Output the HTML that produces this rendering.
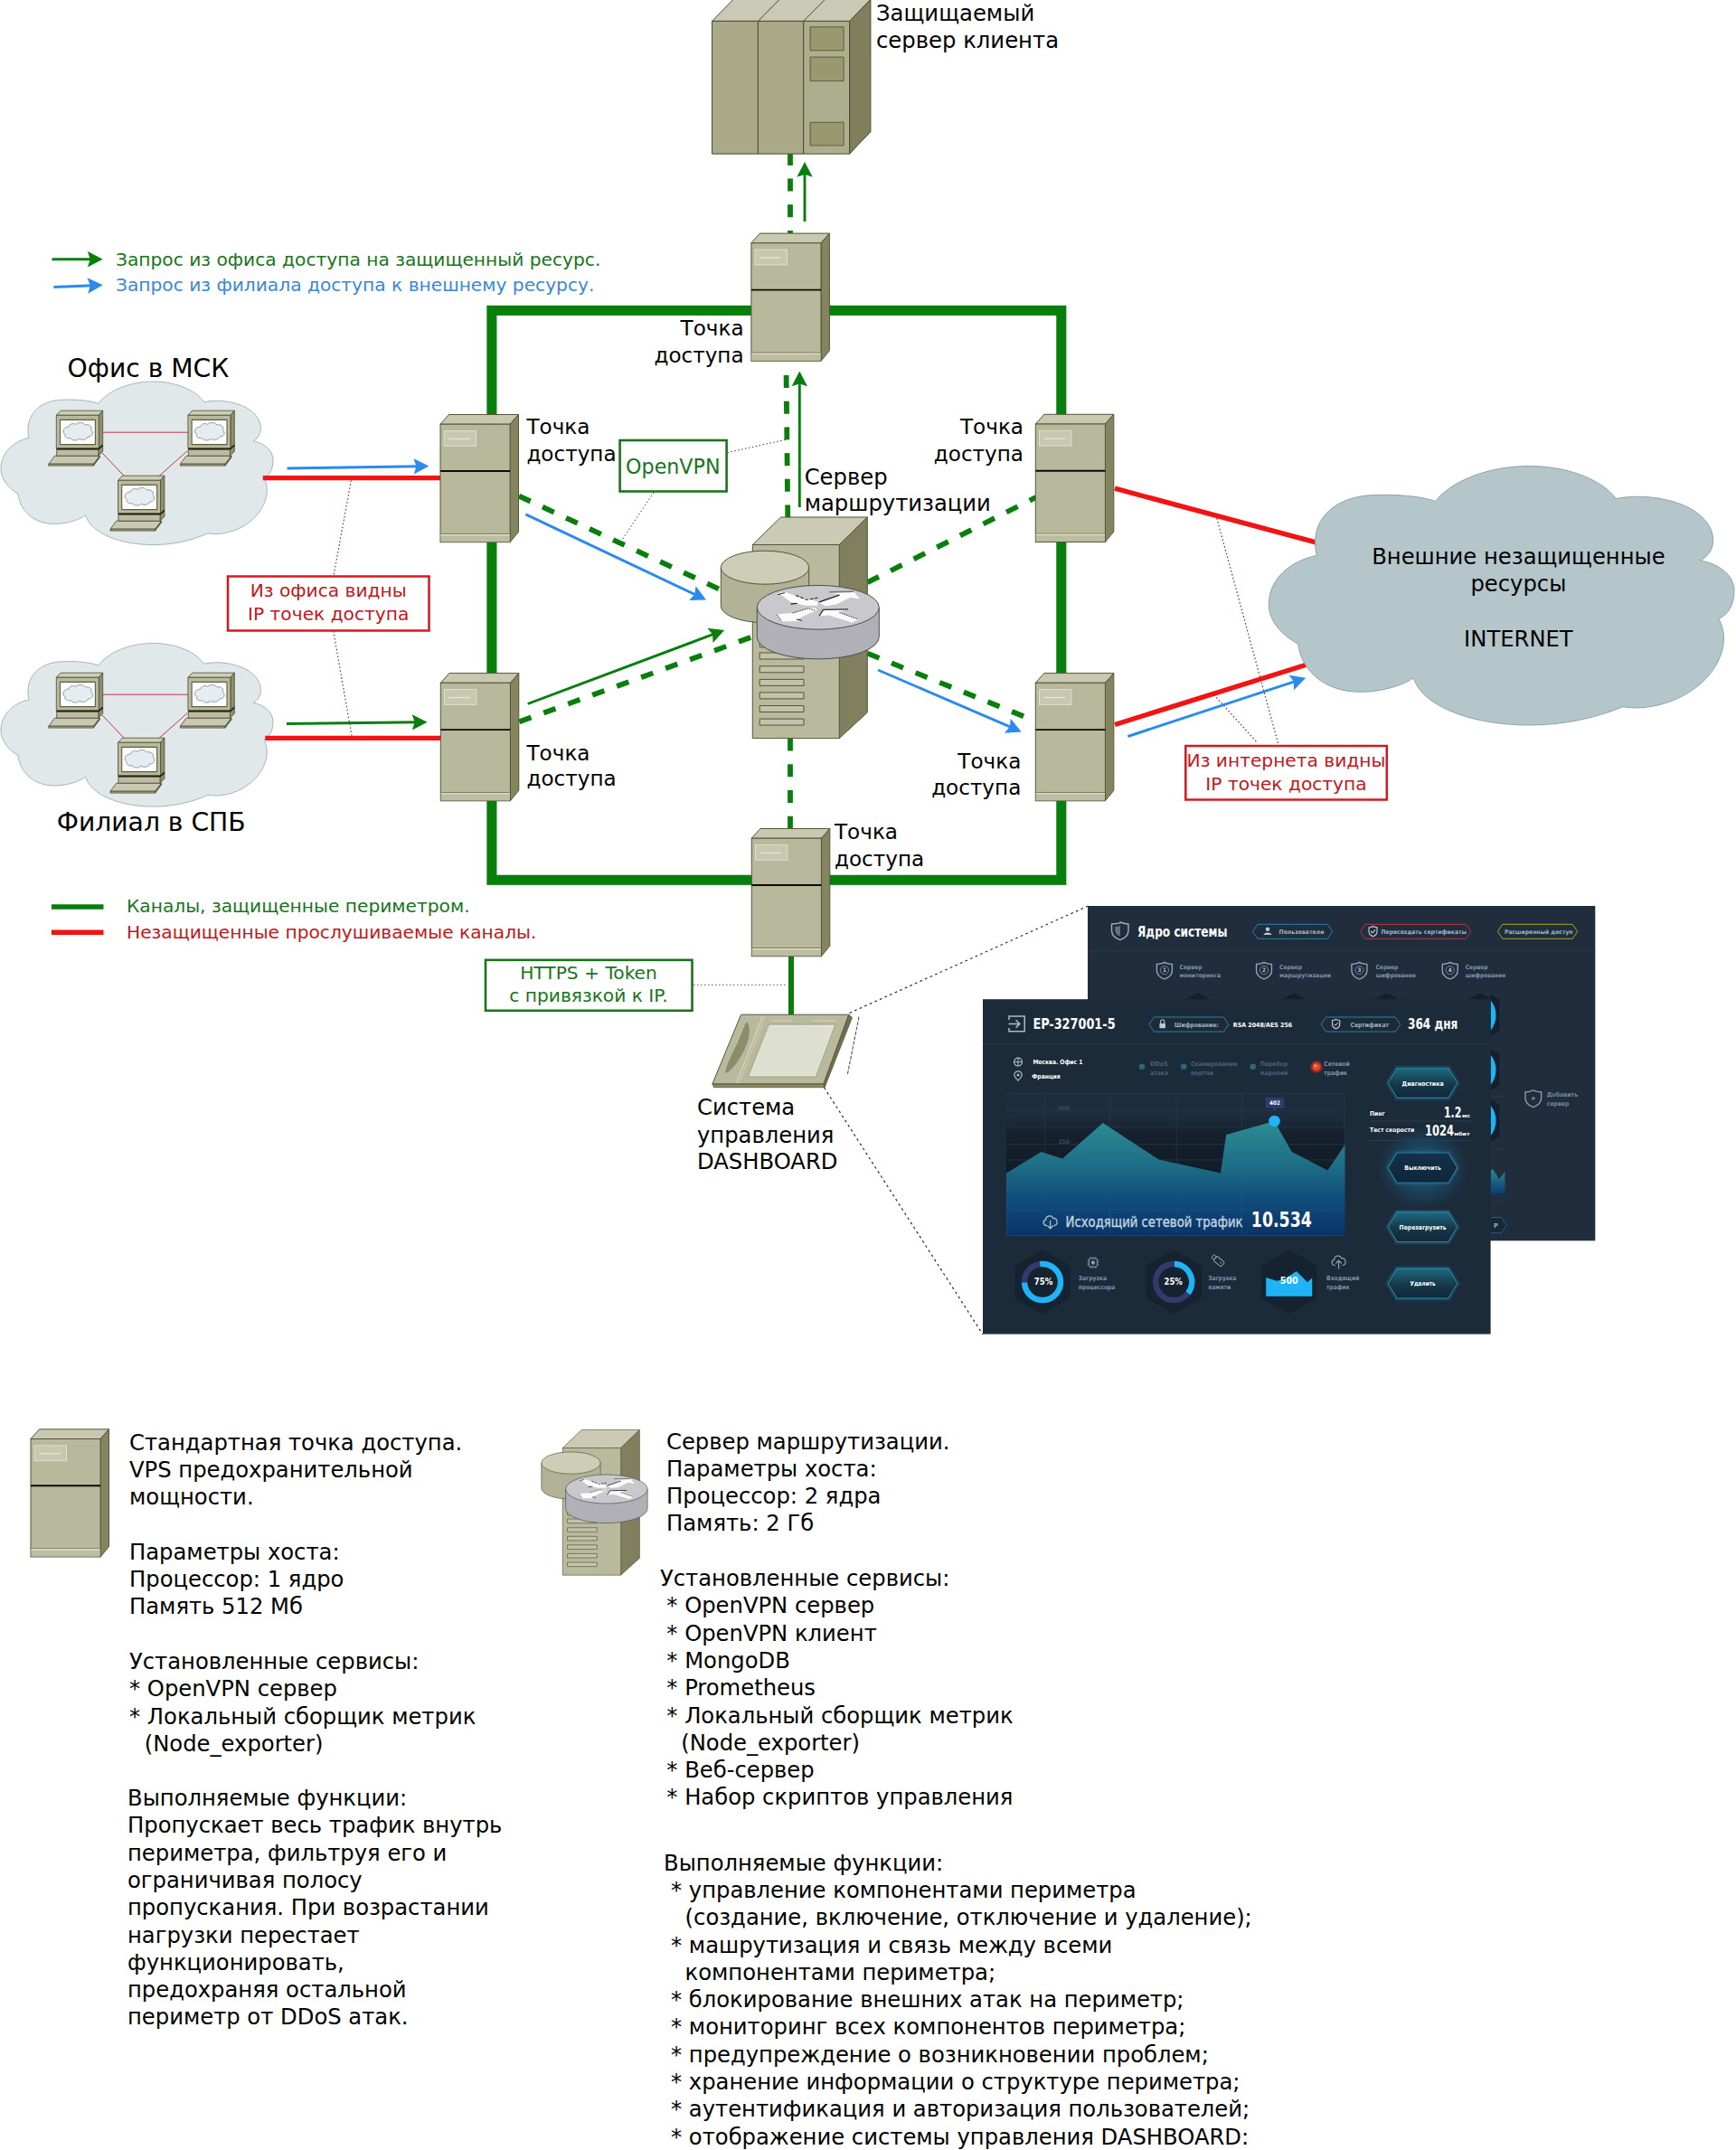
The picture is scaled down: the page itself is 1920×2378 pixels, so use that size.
<!DOCTYPE html>
<html lang="ru"><head><meta charset="utf-8"><title>Схема защищенного периметра</title>
<style>
html,body{margin:0;padding:0;background:#fff}
svg{display:block}
text{font-family:"DejaVu Sans","Liberation Sans",sans-serif}
.t24{font-size:24.25px}
.lb{font-size:23.1px}
.db text{font-family:"DejaVu Sans Condensed","DejaVu Sans","Liberation Sans",sans-serif}
</style></head><body>
<svg width="1920" height="2378" viewBox="0 0 1920 2378">
<defs>
<g id="ap">
<path d="M0 0 L9.5 -10.7 L86.5 -10.7 L77.1 0 Z" fill="#c9c9b2" stroke="#55553a" stroke-width="1" stroke-linejoin="round"/>
<path d="M77.1 0 L86.5 -10.7 L86.5 119 L77.1 130.5 Z" fill="#84845f" stroke="#55553a" stroke-width="1" stroke-linejoin="round"/>
<rect x="0" y="0" width="77.1" height="130.5" fill="#b8b89c" stroke="#55553a" stroke-width="1"/>
<rect x="0.5" y="122.3" width="76.1" height="7.7" fill="#bdbda3"/>
<path d="M0.5 121.3 H76.6" stroke="#77775a" stroke-width="1" fill="none"/>
<path d="M0.5 122.4 H76.6" stroke="#e9e9d4" stroke-width="1.1" fill="none"/>
<path d="M0 51.8 H77.1" stroke="#0a0a0a" stroke-width="1.9" fill="none"/>
<rect x="4.2" y="7.3" width="35.3" height="16.8" fill="#c8c8b0" stroke="#dfdfca" stroke-width="1"/>
<path d="M9 16.2 H33" stroke="#e6e6d4" stroke-width="1.3"/>
</g>
<path id="ah" d="M0 0 L-16.8 -8.7 L-14 0 L-16.8 8.7 Z"/>
<path id="cloud" d="M0.103 0.345 C0.085 0.21 0.14 0.115 0.227 0.112 C0.28 0.108 0.33 0.118 0.358 0.136 C0.39 0.06 0.47 0 0.559 0 C0.65 0 0.72 0.06 0.746 0.126 C0.80 0.105 0.88 0.125 0.921 0.182 C0.965 0.24 0.965 0.33 0.927 0.365 C0.965 0.375 1 0.42 1 0.48 C1 0.53 0.99 0.57 0.967 0.59 C0.995 0.68 0.965 0.80 0.909 0.866 C0.87 0.915 0.81 0.945 0.761 0.929 C0.70 0.975 0.63 1 0.559 1 C0.44 1 0.33 0.93 0.311 0.818 C0.285 0.85 0.24 0.872 0.196 0.872 C0.12 0.872 0.07 0.79 0.063 0.687 C0.03 0.655 0 0.60 0 0.535 C0 0.43 0.05 0.365 0.103 0.345 Z" vector-effect="non-scaling-stroke"/>
<g id="pc" stroke="#4a4a30" stroke-width="0.8" stroke-linejoin="round">
<path d="M-1.9 44.9 L48.1 44.9 L41.2 53.9 L-8.5 53.9 Z" fill="#c9c9b2"/>
<path d="M-8.5 53.9 L41.2 53.9 L41.2 55.8 L-8.5 55.8 Z" fill="#a8a88a"/>
<path d="M41.2 53.9 L48.1 44.9 L48.1 46.6 L41.2 55.8 Z" fill="#84845f"/>
<path d="M46.5 38 L51.4 33.2 L51.4 40 L46.5 44.9 Z" fill="#909070"/>
<rect x="0.4" y="38" width="46.1" height="6.9" fill="#bcbca2"/>
<path d="M0 0 L4.8 -5.1 L51.4 -5.1 L47 0 Z" fill="#cdcdb8"/>
<path d="M47 0 L51.4 -5.1 L51.4 32.7 L47 36.4 Z" fill="#8e8e6c"/>
<rect x="0" y="0" width="47" height="36.4" fill="#b9b99e"/>
<path d="M0 37.2 H47 L51.4 33" stroke="#22220f" stroke-width="1.7" fill="none"/>
<rect x="4.2" y="5.1" width="38.9" height="27.2" fill="#fdfdfd" stroke="#5d5d42" stroke-width="1.1"/>
<g transform="translate(24.2 18.2) scale(1.13) translate(-24.8 -18.2)"><path d="M12 21 C8 18 11 13.5 15.5 13.5 C16 10.5 20 9.5 22.5 11 C25 8.5 30 9 31.5 11.5 C35.5 10.5 39 13.5 37.5 16.5 C40.5 19 38.5 23.5 34.5 23 C33.5 26 28.5 27 26 25 C23.5 27.5 18.5 27 17.5 24.5 C14.5 25.5 11 23.5 12 21 Z" fill="#e6edf0" stroke="#8a99a3" stroke-width="0.85"/></g>
</g>
<g id="rs" stroke-linejoin="round">
<path d="M0 0 L31.3 -30.5 L127 -30.5 L96 0 Z" fill="#cbcbb5" stroke="#55553a" stroke-width="1"/>
<path d="M96 0 L127 -30.5 L127 185.6 L96 214.1 Z" fill="#80805e" stroke="#55553a" stroke-width="1"/>
<rect x="0" y="0" width="96" height="214.1" fill="#b9b99d" stroke="#55553a" stroke-width="1"/>
<rect x="7.9" y="108.3" width="12" height="5" fill="#c3c3ab" stroke="#55553a" stroke-width="1"/>
<rect x="7.9" y="119.5" width="48.8" height="7" fill="#c3c3ab" stroke="#55553a" stroke-width="1"/>
<rect x="7.9" y="134.3" width="48.8" height="7" fill="#c3c3ab" stroke="#55553a" stroke-width="1"/>
<rect x="7.9" y="148.9" width="48.8" height="7" fill="#c3c3ab" stroke="#55553a" stroke-width="1"/>
<rect x="7.9" y="163.4" width="48.8" height="7" fill="#c3c3ab" stroke="#55553a" stroke-width="1"/>
<rect x="7.9" y="178" width="48.8" height="7" fill="#c3c3ab" stroke="#55553a" stroke-width="1"/>
<rect x="7.9" y="192.6" width="48.8" height="7" fill="#c3c3ab" stroke="#55553a" stroke-width="1"/>

<path d="M-35 25.2 V67.7 A48.7 18.5 0 0 0 62.4 67.7 V25.2 Z" fill="#b2b296" stroke="#55553a" stroke-width="1"/>
<ellipse cx="13.7" cy="25.2" rx="48.7" ry="18.5" fill="#cdcdb8" stroke="#55553a" stroke-width="1"/>
<path d="M5 69.3 V102 A67.5 24.4 0 0 0 140 102 V69.3 Z" fill="#b0b0b6" stroke="#4e4e52" stroke-width="1"/>
<ellipse cx="72.5" cy="69.3" rx="67.5" ry="24.4" fill="#c9c9cd" stroke="#4e4e52" stroke-width="1"/>
<path d="M27.9 53.5 L35.7 52.2 L53.0 58.2 L63.4 60.0 L72.0 63.4 L72.0 67.3 L58.2 67.3 L42.6 63.4 L32.3 56.1 Z" fill="#fbfbfb"/>
<path d="M73.7 64.3 L85.0 59.1 L96.2 54.8 L85.8 53.5 L112.6 52.6 L118.7 60.0 L108.3 58.2 L92.7 66.0 L80.7 67.7 Z" fill="#fbfbfb"/>
<path d="M70.3 69.9 L61.6 70.3 L46.1 75.5 L27.1 76.8 L32.3 85.0 L53.0 84.6 L49.5 82.4 L61.6 76.4 L71.1 72.9 Z" fill="#fbfbfb"/>
<path d="M78.1 72.1 L105.7 71.6 L95.3 74.7 L117.8 82.4 L110.0 85.9 L84.1 78.1 L73.7 79.0 Z" fill="#fbfbfb"/>
<path d="M27.9 55.2 L35.7 53.1" fill="none" stroke="#222" stroke-width="1"/>
<path d="M47.8 56.1 L59.9 60.8 L72.0 58.7" fill="none" stroke="#1a1a1a" stroke-width="1.1" stroke-dasharray="4 1.5"/>
<path d="M73.7 63.4 L96.2 55.6" fill="none" stroke="#1a1a1a" stroke-width="1.2"/>
<path d="M85.0 52.2 L111.8 51.8" fill="none" stroke="#777" stroke-width="1.6"/>
<path d="M42.2 65.6 L49.5 64.7" fill="none" stroke="#1a1a1a" stroke-width="1.1"/>
<path d="M44.4 75.5 L61.6 70.3 L69.4 72.9" fill="none" stroke="#222" stroke-width="1" stroke-dasharray="1.5 1.2"/>
<path d="M73.7 79.0 L78.1 71.9 L105.7 71.4" fill="none" stroke="#333" stroke-width="1.4"/>
<path d="M96.2 75.1 L116.9 82.4" fill="none" stroke="#222" stroke-width="1" stroke-dasharray="1.5 1.2"/>
<path d="M27.1 77.2 L32.3 85.0" fill="none" stroke="#222" stroke-width="1" stroke-dasharray="1.5 1.5"/>
<path d="M48.7 82.6 L54.7 83.8" fill="none" stroke="#222" stroke-width="1"/>

</g>
</defs>
<rect width="1920" height="2378" fill="#fff"/>
<rect x="543.9" y="343.4" width="629.9" height="629.9" fill="none" stroke="#087f0c" stroke-width="11.1"/>
<path d="M1233 540.2 L1460 601.2" stroke="#f01414" stroke-width="5.4" fill="none" />
<path d="M1233 801.5 L1455 732" stroke="#f01414" stroke-width="5.4" fill="none" />
<use href="#cloud" transform="translate(1 422) scale(301 180.6)" fill="#e1e8ea" stroke="#a3b6c0" stroke-width="1"/>
<use href="#cloud" transform="translate(1 711.5) scale(301 180.6)" fill="#e1e8ea" stroke="#a3b6c0" stroke-width="1"/>
<use href="#cloud" transform="translate(1403.3 515.5) scale(514.7 286.5)" fill="#b4c6ca" stroke="#8fa3aa" stroke-width="1"/>
<path d="M290.8 528.6 L488 528.6" stroke="#f01414" stroke-width="5.3" fill="none" />
<path d="M293.3 816.3 L488 816.3" stroke="#f01414" stroke-width="5.3" fill="none" />
<path d="M114 478.2 L208.3 478.2" stroke="#c2344f" stroke-width="1" fill="none" />
<path d="M112.4 500.3 L137.3 526.5" stroke="#c2344f" stroke-width="1" fill="none" />
<path d="M207.4 498.5 L176 526.5" stroke="#c2344f" stroke-width="1" fill="none" />
<use href="#pc" x="62.3" y="459.3"/>
<use href="#pc" x="207.9" y="459.3"/>
<use href="#pc" x="130.5" y="531.3"/>
<path d="M114 768.2 L208.3 768.2" stroke="#c2344f" stroke-width="1" fill="none" />
<path d="M112.4 790.3 L137.3 816.5" stroke="#c2344f" stroke-width="1" fill="none" />
<path d="M207.4 788.5 L176 816.5" stroke="#c2344f" stroke-width="1" fill="none" />
<use href="#pc" x="62.3" y="749.3"/>
<use href="#pc" x="207.9" y="749.3"/>
<use href="#pc" x="130.5" y="821.3"/>
<path d="M874 168.9 L874 258.5" stroke="#087f0c" stroke-width="5.8" fill="none" stroke-dasharray="14 14.7" stroke-dashoffset="0"/>
<path d="M869.6 415 L871.3 575" stroke="#087f0c" stroke-width="5.8" fill="none" stroke-dasharray="14 14.7" stroke-dashoffset="0"/>
<path d="M874 816.6 L874 917" stroke="#087f0c" stroke-width="5.8" fill="none" stroke-dasharray="14 14.7" stroke-dashoffset="0"/>
<path d="M574 548.6 L797.4 652.5" stroke="#087f0c" stroke-width="5.8" fill="none" stroke-dasharray="14 14.7" stroke-dashoffset="0"/>
<path d="M574.3 798.3 L831.6 704.5" stroke="#087f0c" stroke-width="5.8" fill="none" stroke-dasharray="14 14.7" stroke-dashoffset="0"/>
<path d="M959.4 644.2 L1145.8 550" stroke="#087f0c" stroke-width="5.8" fill="none" stroke-dasharray="14 14.7" stroke-dashoffset="0"/>
<path d="M959.4 722.6 L1132.9 792.6" stroke="#087f0c" stroke-width="5.8" fill="none" stroke-dasharray="14 14.7" stroke-dashoffset="0"/>
<path d="M875 1057 L875 1123" stroke="#087f0c" stroke-width="6" fill="none" />
<path d="M388.4 531.4 L369.1 636" stroke="#8a3434" stroke-width="1.2" fill="none" stroke-dasharray="1.6 2.4"/>
<path d="M368.7 698 L389 813.5" stroke="#8a3434" stroke-width="1.2" fill="none" stroke-dasharray="1.6 2.4"/>
<path d="M1345.8 573.2 L1413.5 822" stroke="#7a3030" stroke-width="1.2" fill="none" stroke-dasharray="1.6 2.4"/>
<path d="M1342.6 768.4 L1391 822" stroke="#7a3030" stroke-width="1.2" fill="none" stroke-dasharray="1.6 2.4"/>
<path d="M804.5 500.6 L869.7 486.1" stroke="#333" stroke-width="1" fill="none" stroke-dasharray="1.5 2.5"/>
<path d="M722.9 544.8 L687.4 598" stroke="#333" stroke-width="1" fill="none" stroke-dasharray="1.5 2.5"/>
<path d="M767 1089.3 L870 1089.3" stroke="#555" stroke-width="1" fill="none" stroke-dasharray="1.5 2.5"/>
<path d="M939.5 1120.5 L1202.8 1002.3" stroke="#2a2a2a" stroke-width="1.2" fill="none" stroke-dasharray="2.7 3.4"/>
<path d="M911.5 1203 L1087 1476" stroke="#2a2a2a" stroke-width="1.2" fill="none" stroke-dasharray="2.7 3.4"/>
<path d="M890 245 L890.0 189.0" stroke="#087f0c" stroke-width="2.9" fill="none" />
<use href="#ah" fill="#087f0c" transform="translate(890 179) rotate(-90.00)"/>
<path d="M884.3 561 L884.3 420.5" stroke="#087f0c" stroke-width="2.9" fill="none" />
<use href="#ah" fill="#087f0c" transform="translate(884.3 410.5) rotate(-90.00)"/>
<path d="M583.7 778.5 L791.8 700.4" stroke="#087f0c" stroke-width="2.9" fill="none" />
<use href="#ah" fill="#087f0c" transform="translate(801.2 696.9) rotate(-20.56)"/>
<path d="M317 800.5 L462.6 798.8" stroke="#087f0c" stroke-width="2.9" fill="none" />
<use href="#ah" fill="#087f0c" transform="translate(472.6 798.7) rotate(-0.66)"/>
<path d="M57.5 286.7 L103.7 286.7" stroke="#087f0c" stroke-width="2.9" fill="none" />
<use href="#ah" fill="#087f0c" transform="translate(113.7 286.7) rotate(0.00)"/>
<path d="M581.4 568.9 L772.0 659.1" stroke="#2a8af0" stroke-width="2.9" fill="none" />
<use href="#ah" fill="#2a8af0" transform="translate(781 663.4) rotate(25.34)"/>
<path d="M317.5 518 L464.4 515.8" stroke="#2a8af0" stroke-width="2.9" fill="none" />
<use href="#ah" fill="#2a8af0" transform="translate(474.4 515.6) rotate(-0.88)"/>
<path d="M971 741 L1120.5 805.4" stroke="#2a8af0" stroke-width="2.9" fill="none" />
<use href="#ah" fill="#2a8af0" transform="translate(1129.7 809.4) rotate(23.32)"/>
<path d="M1247.4 814.5 L1434.7 752.8" stroke="#2a8af0" stroke-width="2.9" fill="none" />
<use href="#ah" fill="#2a8af0" transform="translate(1444.2 749.7) rotate(-18.23)"/>
<path d="M59.4 317.5 L103.7 315.7" stroke="#2a8af0" stroke-width="2.9" fill="none" />
<use href="#ah" fill="#2a8af0" transform="translate(113.7 315.3) rotate(-2.32)"/>
<path d="M57 1003 L114.5 1003" stroke="#087f0c" stroke-width="5.6" fill="none" />
<path d="M57 1031.3 L114.5 1031.3" stroke="#f01414" stroke-width="5.6" fill="none" />
<use href="#ap" x="830.9" y="268.8"/>
<use href="#ap" x="487" y="469.2"/>
<use href="#ap" x="1145.3" y="469"/>
<use href="#ap" x="487.3" y="755.3"/>
<use href="#ap" x="1145.3" y="755.3"/>
<use href="#ap" x="831.3" y="927.2"/>
<use href="#ap" x="34" y="1591.5"/>
<g stroke="#4d4d33" stroke-width="1" stroke-linejoin="round">
<path d="M787.5 23.4 L810.8 -0.5 L962.9 -0.5 L939.6 23.4 Z" fill="#c9c9b5"/>
<path d="M838.4 23.4 L862 -0.5 M888.7 23.4 L912.3 -0.5" fill="none"/>
<path d="M939.6 23.4 L962.9 -0.5 L962.9 145.7 L939.6 170.2 Z" fill="#7f7f5d"/>
<rect x="787.5" y="23.4" width="50.9" height="146.8" fill="#a9a988"/>
<rect x="838.4" y="23.4" width="50.3" height="146.8" fill="#a9a988"/>
<rect x="888.7" y="23.4" width="50.9" height="146.8" fill="#adad8f"/>
<rect x="896.1" y="29.8" width="37" height="26" fill="#99996f" stroke="#5e5e3a"/>
<rect x="896.1" y="63.1" width="37" height="26.5" fill="#99996f" stroke="#5e5e3a"/>
<rect x="896.1" y="135.3" width="37" height="25.6" fill="#99996f" stroke="#5e5e3a"/>
</g>
<use href="#rs" x="832.3" y="602.5"/>
<use href="#rs" transform="translate(622.3 1601.5) scale(0.67 0.657)"/>
<g stroke-linejoin="round">
<path d="M938.7 1122.2 L942.5 1125.4 L912.1 1202.7 L910.8 1198.8 Z" fill="#6f6f52" stroke="#55553a" stroke-width="0.8"/>
<path d="M787.9 1198.8 L910.8 1198.8 L912.1 1202.7 L789.5 1202.7 Z" fill="#8a8a68" stroke="#55553a" stroke-width="0.8"/>
<path d="M819.6 1122.2 L938.7 1122.2 L910.8 1198.8 L787.9 1198.8 Z" fill="#b9b99e" stroke="#55553a" stroke-width="1"/>
<path d="M843.6 1123.5 L814.5 1198" stroke="#dedecb" stroke-width="1" fill="none"/>
<path d="M846.5 1123.5 L817.5 1198" stroke="#d2d2bc" stroke-width="0.8" fill="none"/>
<path d="M853 1129 H876 M899 1129 H924" stroke="#d9d9c6" stroke-width="1.2" fill="none"/>
<path d="M849.5 1132.7 L924 1132.7 L902.5 1191.2 L827 1191.2 Z" fill="#c6c6ae" stroke="#a2a284" stroke-width="0.8"/>
<path d="M851.8 1134.6 L922 1134.6 L901.4 1189.6 L829.4 1189.6 Z" fill="#dddfd0" stroke="#ecece0" stroke-width="0.8"/>
<path d="M825.9 1130 C831 1135.5 829.7 1150.7 820.8 1165.9 C814.5 1177.3 806.9 1186.2 802.5 1186.8 C801.8 1181.1 810.7 1163.4 815.8 1153.2 C820.8 1141.8 823.4 1133 825.9 1130 Z" fill="#8d8d6c"/>
<path d="M950 1124.7 L937.4 1188" stroke="#555" stroke-width="1.1" stroke-dasharray="4 1.5" fill="none"/>
</g>
<rect x="252" y="637.5" width="222.5" height="60" fill="#fff" stroke="#d4181e" stroke-width="2.5"/>
<rect x="1311.3" y="825" width="222.5" height="59.5" fill="#fff" stroke="#d4181e" stroke-width="2.5"/>
<rect x="685.6" y="487" width="118" height="56.5" fill="#fff" stroke="#18751c" stroke-width="2.6"/>
<rect x="537" y="1061.8" width="228.5" height="56" fill="#fff" stroke="#18751c" stroke-width="2.6"/>
<text x="969" y="23" font-size="24.3">Защищаемый</text>
<text x="969" y="53.3" font-size="24.3">сервер клиента</text>
<text x="822.6" y="370.5" class="lb" text-anchor="end">Точка</text>
<text x="822.6" y="400.7" class="lb" text-anchor="end">доступа</text>
<text x="582.4" y="479.7" class="lb">Точка</text>
<text x="582.4" y="509.5" class="lb">доступа</text>
<text x="889.7" y="535.8" class="t24">Сервер</text>
<text x="889.7" y="565.2" class="t24">маршрутизации</text>
<text x="1132" y="480" class="lb" text-anchor="end">Точка</text>
<text x="1132" y="509.6" class="lb" text-anchor="end">доступа</text>
<text x="582.5" y="840.8" class="lb">Точка</text>
<text x="582.5" y="869.1" class="lb">доступа</text>
<text x="1129.3" y="849.8" class="lb" text-anchor="end">Точка</text>
<text x="1129.3" y="879" class="lb" text-anchor="end">доступа</text>
<text x="923" y="928.2" class="lb">Точка</text>
<text x="923" y="958.1" class="lb">доступа</text>
<text x="74.6" y="416.7" font-size="28.2">Офис в МСК</text>
<text x="62.7" y="919.3" font-size="28.2">Филиал в СПБ</text>
<text x="771" y="1233" class="t24">Система</text>
<text x="771" y="1263.5" class="t24">управления</text>
<text x="771" y="1293.2" class="t24">DASHBOARD</text>
<text x="1679.4" y="623.9" class="t24" text-anchor="middle">Внешние незащищенные</text>
<text x="1679.4" y="654.1" class="t24" text-anchor="middle">ресурсы</text>
<text x="1679.4" y="714.6" class="t24" text-anchor="middle">INTERNET</text>
<text x="128" y="293.5" fill="#18751c" font-size="20.2">Запрос из офиса доступа на защищенный ресурс.</text>
<text x="128" y="322" fill="#3a87d8" font-size="20.2">Запрос из филиала доступа к внешнему ресурсу.</text>
<text x="140" y="1009.2" fill="#18751c" font-size="20.2">Каналы, защищенные периметром.</text>
<text x="140" y="1038" fill="#c4161c" font-size="20.2">Незащищенные прослушиваемые каналы.</text>
<text x="363.2" y="660" text-anchor="middle" fill="#c4161c" font-size="20.2">Из офиса видны</text>
<text x="363.2" y="686.2" text-anchor="middle" fill="#c4161c" font-size="20.2">IP точек доступа</text>
<text x="1422.5" y="847.5" text-anchor="middle" fill="#c4161c" font-size="20.2">Из интернета видны</text>
<text x="1422.5" y="873.5" text-anchor="middle" fill="#c4161c" font-size="20.2">IP точек доступа</text>
<text x="744.3" y="523.8" text-anchor="middle" fill="#18751c" font-size="22.2">OpenVPN</text>
<text x="651" y="1082.8" text-anchor="middle" fill="#18751c" font-size="20.2">HTTPS + Token</text>
<text x="651" y="1107.5" text-anchor="middle" fill="#18751c" font-size="20.2">с привязкой к IP.</text>
<text x="143" y="1603.5" class="t24">Стандартная точка доступа.</text>
<text x="143" y="1633.8" class="t24">VPS предохранительной</text>
<text x="143" y="1664.1" class="t24">мощности.</text>
<text x="143" y="1724.7" class="t24">Параметры хоста:</text>
<text x="143" y="1755.0" class="t24">Процессор: 1 ядро</text>
<text x="143" y="1785.3" class="t24">Память 512 Мб</text>
<text x="143" y="1845.9" class="t24">Установленные сервисы:</text>
<text x="143" y="1876.2" class="t24">* OpenVPN сервер</text>
<text x="143" y="1906.5" class="t24">* Локальный сборщик метрик</text>
<text x="159.7" y="1936.8" class="t24">(Node_exporter)</text>
<text x="141" y="1997" class="t24">Выполняемые функции:</text>
<text x="141" y="2027.3" class="t24">Пропускает весь трафик внутрь</text>
<text x="141" y="2057.6" class="t24">периметра, фильтруя его и</text>
<text x="141" y="2087.9" class="t24">ограничивая полосу</text>
<text x="141" y="2118.2" class="t24">пропускания. При возрастании</text>
<text x="141" y="2148.5" class="t24">нагрузки перестает</text>
<text x="141" y="2178.8" class="t24">функционировать,</text>
<text x="141" y="2209.1" class="t24">предохраняя остальной</text>
<text x="141" y="2239.4" class="t24">периметр от DDoS атак.</text>
<text x="737" y="1602.5" class="t24">Сервер маршрутизации.</text>
<text x="737" y="1632.8" class="t24">Параметры хоста:</text>
<text x="737" y="1663.1" class="t24">Процессор: 2 ядра</text>
<text x="737" y="1693.4" class="t24">Память: 2 Гб</text>
<text x="730" y="1754" class="t24">Установленные сервисы:</text>
<text x="737.3" y="1784.3" class="t24">* OpenVPN сервер</text>
<text x="737.3" y="1814.6" class="t24">* OpenVPN клиент</text>
<text x="737.3" y="1844.9" class="t24">* MongoDB</text>
<text x="737.3" y="1875.2" class="t24">* Prometheus</text>
<text x="737.3" y="1905.5" class="t24">* Локальный сборщик метрик</text>
<text x="753.2" y="1935.8" class="t24">(Node_exporter)</text>
<text x="737.3" y="1966.1" class="t24">* Веб-сервер</text>
<text x="737.3" y="1996.4" class="t24">* Набор скриптов управления</text>
<text x="734" y="2068.6" class="t24">Выполняемые функции:</text>
<text x="742" y="2098.9" class="t24">* управление компонентами периметра</text>
<text x="757.6" y="2129.2" class="t24">(создание, включение, отключение и удаление);</text>
<text x="742" y="2159.5" class="t24">* машрутизация и связь между всеми</text>
<text x="757.6" y="2189.8" class="t24">компонентами периметра;</text>
<text x="742" y="2220.1" class="t24">* блокирование внешних атак на периметр;</text>
<text x="742" y="2250.4" class="t24">* мониторинг всех компонентов периметра;</text>
<text x="742" y="2280.7" class="t24">* предупреждение о возникновении проблем;</text>
<text x="742" y="2311.0" class="t24">* хранение информации о структуре периметра;</text>
<text x="742" y="2341.3" class="t24">* аутентификация и авторизация пользователей;</text>
<text x="742" y="2371.6" class="t24">* отображение системы управления DASHBOARD:</text>
<g class="db">
<defs>
<linearGradient id="gBtn" x1="0" y1="0" x2="0" y2="1"><stop offset="0" stop-color="#1f6a80"/><stop offset="0.55" stop-color="#153848"/><stop offset="1" stop-color="#12283a"/></linearGradient>
<linearGradient id="gBtnD" x1="0" y1="0" x2="0" y2="1"><stop offset="0" stop-color="#14324a"/><stop offset="1" stop-color="#102538"/></linearGradient>
<radialGradient id="gGlow" cx="0.5" cy="0.5" r="0.5"><stop offset="0" stop-color="#1c86b8" stop-opacity="0.75"/><stop offset="0.55" stop-color="#1a6f9c" stop-opacity="0.35"/><stop offset="1" stop-color="#1a6f9c" stop-opacity="0"/></radialGradient>
<linearGradient id="gArea" x1="0" y1="1240" x2="0" y2="1367" gradientUnits="userSpaceOnUse"><stop offset="0" stop-color="#2c8c92"/><stop offset="0.4" stop-color="#1d6c86"/><stop offset="0.68" stop-color="#104c7a"/><stop offset="1" stop-color="#0a3366"/></linearGradient>
<linearGradient id="gShade" x1="0" y1="1232" x2="0" y2="1300" gradientUnits="userSpaceOnUse"><stop offset="0" stop-color="#121c27" stop-opacity="0"/><stop offset="0.35" stop-color="#121c27" stop-opacity="0.75"/><stop offset="1" stop-color="#111b26" stop-opacity="1"/></linearGradient>
<linearGradient id="gMini" x1="0" y1="0" x2="0" y2="1"><stop offset="0" stop-color="#2a8a90"/><stop offset="1" stop-color="#0a3c74"/></linearGradient>
<radialGradient id="gRed" cx="0.5" cy="0.5" r="0.5"><stop offset="0" stop-color="#ff5a3c"/><stop offset="0.45" stop-color="#e8321e"/><stop offset="1" stop-color="#e8321e" stop-opacity="0"/></radialGradient>
<clipPath id="cpBack"><rect x="1648.8" y="1002" width="115.5" height="370.3"/></clipPath>
</defs>
<rect x="1203" y="1002" width="561.3" height="370.3" fill="#1f2d3c"/>
<path d="M1203 1052 H1764.3" stroke="#2b3b4b" stroke-width="1"/>
<path d="M1229.5 1022 C1236 1022 1241 1020.5 1238.8 1020 C1243 1021.5 1246 1022 1248 1022 V1029 C1248 1034.5 1243.5 1038 1238.8 1039.6 C1234 1038 1229.5 1034.5 1229.5 1029 Z" fill="none" stroke="#9fb0c0" stroke-width="1.4" stroke-linejoin="round"/>
<path d="M1233.3 1025 C1236 1025 1238 1024.4 1238.8 1024 V1035.5 C1235.5 1034.3 1233.3 1032 1233.3 1029 Z" fill="#9fb0c0" opacity="0.55"/>
<text x="1258" y="1035.9" font-size="15.5" font-weight="bold" fill="#fff" textLength="99.5" lengthAdjust="spacingAndGlyphs">Ядро системы</text>
<path d="M1385.4 1030.3 L1390.9 1022.3 L1468.3 1022.3 L1473.8 1030.3 L1468.3 1038.3 L1390.9 1038.3 Z" fill="none" stroke="#2a80b0" stroke-width="1" stroke-linejoin="round" />
<circle cx="1402" cy="1027.7" r="2.3" fill="#b8c6d3"/><path d="M1397.5 1034 C1397.5 1030.5 1406.5 1030.5 1406.5 1034 Z" fill="#b8c6d3"/>
<text x="1414.5" y="1033" font-size="6.6" font-weight="bold" fill="#9fb2c3" textLength="50" lengthAdjust="spacingAndGlyphs">Пользователи</text>
<path d="M1504.4 1030.3 L1509.9 1022.3 L1621.3 1022.3 L1626.8 1030.3 L1621.3 1038.3 L1509.9 1038.3 Z" fill="none" stroke="#c2323a" stroke-width="1" stroke-linejoin="round" />
<path d="M1514 1026 L1518.5 1024.6 L1523 1026 V1030.5 C1523 1033.3 1520.5 1035 1518.5 1035.8 C1516.5 1035 1514 1033.3 1514 1030.5 Z" fill="none" stroke="#c9d4de" stroke-width="1.1"/><path d="M1516.2 1030 L1518 1031.8 L1521 1028.3" fill="none" stroke="#c9d4de" stroke-width="1.1"/>
<text x="1527.5" y="1033" font-size="6.6" font-weight="bold" fill="#9fb2c3" textLength="94.5" lengthAdjust="spacingAndGlyphs">Пересоздать сертификаты</text>
<path d="M1656.4 1030.3 L1661.9 1022.3 L1739.2 1022.3 L1744.7 1030.3 L1739.2 1038.3 L1661.9 1038.3 Z" fill="none" stroke="#b3a324" stroke-width="1" stroke-linejoin="round" />
<text x="1664" y="1033" font-size="6.6" font-weight="bold" fill="#9fb2c3" textLength="75.5" lengthAdjust="spacingAndGlyphs">Расширенный доступ</text>
<path d="M1279.4 1066.3 C1284.9 1066.3 1287.9 1064.5 1287.9 1064.2 C1287.9 1064.5 1290.9 1066.3 1296.4 1066.3 V1073.5 C1296.4 1078.5 1291.9 1081.5 1287.9 1083 C1283.9 1081.5 1279.4 1078.5 1279.4 1073.5 Z" fill="none" stroke="#9aabbb" stroke-width="1.3" stroke-linejoin="round"/>
<circle cx="1287.9" cy="1073" r="4.6" fill="none" stroke="#8697a8" stroke-width="0.8"/>
<text x="1287.9" y="1075.4" font-size="6.2" font-weight="bold" fill="#b5c2ce" text-anchor="middle">1</text>
<text x="1304.5" y="1071.8" font-size="6.6" font-weight="bold" fill="#7e91a4" textLength="25" lengthAdjust="spacingAndGlyphs">Сервер</text>
<text x="1304.5" y="1081.3" font-size="6.6" font-weight="bold" fill="#7e91a4" textLength="45.5" lengthAdjust="spacingAndGlyphs">мониторинга</text>
<path d="M1389.5 1066.3 C1395 1066.3 1398 1064.5 1398 1064.2 C1398 1064.5 1401 1066.3 1406.5 1066.3 V1073.5 C1406.5 1078.5 1402 1081.5 1398 1083 C1394 1081.5 1389.5 1078.5 1389.5 1073.5 Z" fill="none" stroke="#9aabbb" stroke-width="1.3" stroke-linejoin="round"/>
<circle cx="1398" cy="1073" r="4.6" fill="none" stroke="#8697a8" stroke-width="0.8"/>
<text x="1398" y="1075.4" font-size="6.2" font-weight="bold" fill="#b5c2ce" text-anchor="middle">2</text>
<text x="1415" y="1071.8" font-size="6.6" font-weight="bold" fill="#7e91a4" textLength="25" lengthAdjust="spacingAndGlyphs">Сервер</text>
<text x="1415" y="1081.3" font-size="6.6" font-weight="bold" fill="#7e91a4" textLength="57" lengthAdjust="spacingAndGlyphs">маршрутизации</text>
<path d="M1494.9 1066.3 C1500.4 1066.3 1503.4 1064.5 1503.4 1064.2 C1503.4 1064.5 1506.4 1066.3 1511.9 1066.3 V1073.5 C1511.9 1078.5 1507.4 1081.5 1503.4 1083 C1499.4 1081.5 1494.9 1078.5 1494.9 1073.5 Z" fill="none" stroke="#9aabbb" stroke-width="1.3" stroke-linejoin="round"/>
<circle cx="1503.4" cy="1073" r="4.6" fill="none" stroke="#8697a8" stroke-width="0.8"/>
<text x="1503.4" y="1075.4" font-size="6.2" font-weight="bold" fill="#b5c2ce" text-anchor="middle">3</text>
<text x="1521.4" y="1071.8" font-size="6.6" font-weight="bold" fill="#7e91a4" textLength="25" lengthAdjust="spacingAndGlyphs">Сервер</text>
<text x="1521.4" y="1081.3" font-size="6.6" font-weight="bold" fill="#7e91a4" textLength="44.5" lengthAdjust="spacingAndGlyphs">шифрования</text>
<path d="M1595.2 1066.3 C1600.7 1066.3 1603.7 1064.5 1603.7 1064.2 C1603.7 1064.5 1606.7 1066.3 1612.2 1066.3 V1073.5 C1612.2 1078.5 1607.7 1081.5 1603.7 1083 C1599.7 1081.5 1595.2 1078.5 1595.2 1073.5 Z" fill="none" stroke="#9aabbb" stroke-width="1.3" stroke-linejoin="round"/>
<circle cx="1603.7" cy="1073" r="4.6" fill="none" stroke="#8697a8" stroke-width="0.8"/>
<text x="1603.7" y="1075.4" font-size="6.2" font-weight="bold" fill="#b5c2ce" text-anchor="middle">4</text>
<text x="1620.7" y="1071.8" font-size="6.6" font-weight="bold" fill="#7e91a4" textLength="25" lengthAdjust="spacingAndGlyphs">Сервер</text>
<text x="1620.7" y="1081.3" font-size="6.6" font-weight="bold" fill="#7e91a4" textLength="44.5" lengthAdjust="spacingAndGlyphs">шифрования</text>
<path d="M1312 1105 L1325 1098.5 L1338 1105 Z" fill="#141f2b"/>
<path d="M1418 1105 L1431 1098.5 L1444 1105 Z" fill="#141f2b"/>
<path d="M1520.5 1105 L1533.5 1098.5 L1546.5 1105 Z" fill="#141f2b"/>
<path d="M1624 1105 L1637 1098.5 L1650 1105 Z" fill="#141f2b"/>
<g clip-path="url(#cpBack)">
<path d="M1628.0 1088.0 L1658.3 1105.5 L1658.3 1140.5 L1628.0 1158.0 L1597.7 1140.5 L1597.7 1105.5 Z" fill="#141f2c" stroke="none" stroke-width="1" stroke-linejoin="round" />
<circle cx="1628" cy="1123" r="23" fill="none" stroke="#1fb4f5" stroke-width="7"/>
<path d="M1628.0 1148.3 L1658.3 1165.8 L1658.3 1200.8 L1628.0 1218.3 L1597.7 1200.8 L1597.7 1165.8 Z" fill="#141f2c" stroke="none" stroke-width="1" stroke-linejoin="round" />
<circle cx="1628" cy="1183.3" r="23" fill="none" stroke="#1fb4f5" stroke-width="7"/>
<path d="M1628.0 1204.5 L1658.3 1222.0 L1658.3 1257.0 L1628.0 1274.5 L1597.7 1257.0 L1597.7 1222.0 Z" fill="#141f2c" stroke="none" stroke-width="1" stroke-linejoin="round" />
<circle cx="1628" cy="1239.5" r="23" fill="none" stroke="#1fb4f5" stroke-width="7"/>
<path d="M1648 1212.6 H1664 M1648 1270.8 H1664 M1648 1329 H1664" stroke="#2b3b4b" stroke-width="1"/>
<path d="M1640 1320.5 V1300 L1651 1293 L1658 1304 L1664.5 1296 V1320.5 Z" fill="url(#gMini)"/>
<path d="M1618 1355.1 L1624 1346.5 L1660.3 1346.5 L1666.3 1355.1 L1660.3 1363.7 L1624 1363.7 Z" fill="#142a3c" stroke="#1f5f80" stroke-width="1" stroke-linejoin="round" />
<text x="1652" y="1358" font-size="7" font-weight="bold" fill="#9fb2c3">P</text>
</g>
<path d="M1687 1207.8 C1692 1207.8 1695.8 1206 1695.8 1205.6 C1695.8 1206 1699.6 1207.8 1704.6 1207.8 V1214.5 C1704.6 1219.8 1700.2 1223 1695.8 1224.6 C1691.4 1223 1687 1219.8 1687 1214.5 Z" fill="none" stroke="#8a9bac" stroke-width="1.4" stroke-linejoin="round"/>
<path d="M1693.6 1214.8 H1698 M1695.8 1212.6 V1217" stroke="#8a9bac" stroke-width="1"/>
<text x="1710.8" y="1213.1" font-size="6.8" font-weight="bold" fill="#76899b" textLength="34.3" lengthAdjust="spacingAndGlyphs">Добавить</text>
<text x="1710.8" y="1222.6" font-size="6.8" font-weight="bold" fill="#76899b" textLength="24.5" lengthAdjust="spacingAndGlyphs">сервер</text>
<rect x="1087" y="1105.2" width="561.6" height="370.4" fill="#1c2b3a"/>
<path d="M1087 1155 H1648.6" stroke="#2a3b4c" stroke-width="1"/>
<path d="M1116 1128 V1124 H1133.2 V1140.8 H1116 V1137" fill="none" stroke="#aebbc8" stroke-width="1.5"/>
<path d="M1115.5 1132.4 H1127.5 M1123.6 1128.2 L1127.8 1132.4 L1123.6 1136.6" fill="none" stroke="#aebbc8" stroke-width="1.5"/>
<text x="1142.4" y="1138.4" font-size="16" font-weight="bold" fill="#fff" textLength="91.2" lengthAdjust="spacingAndGlyphs">EP-327001-5</text>
<path d="M1270.8 1133.05 L1276.3 1125 L1353.4 1125 L1358.9 1133.05 L1353.4 1141.1 L1276.3 1141.1 Z" fill="none" stroke="#2a80b0" stroke-width="1" stroke-linejoin="round" />
<rect x="1282.4" y="1132" width="6.6" height="5.2" rx="0.6" fill="#b8c6d3"/><path d="M1283.7 1132 V1129.8 A2 2 0 0 1 1287.7 1129.8 V1132" fill="none" stroke="#b8c6d3" stroke-width="1.1"/>
<text x="1299" y="1136.2" font-size="6.8" font-weight="bold" fill="#9fb2c3" textLength="48.7" lengthAdjust="spacingAndGlyphs">Шифрование:</text>
<text x="1363.8" y="1136" font-size="6.8" font-weight="bold" fill="#fff" textLength="65.4" lengthAdjust="spacingAndGlyphs">RSA 2048/AES 256</text>
<path d="M1461 1133.05 L1466.5 1125 L1543.3 1125 L1548.8 1133.05 L1543.3 1141.1 L1466.5 1141.1 Z" fill="none" stroke="#2a80b0" stroke-width="1" stroke-linejoin="round" />
<path d="M1473.5 1128.8 L1477.6 1127.5 L1481.7 1128.8 V1133 C1481.7 1135.6 1479.4 1137.2 1477.6 1138 C1475.8 1137.2 1473.5 1135.6 1473.5 1133 Z" fill="none" stroke="#c9d4de" stroke-width="1.1"/><path d="M1475.6 1132.6 L1477.2 1134.2 L1479.9 1131" fill="none" stroke="#c9d4de" stroke-width="1"/>
<text x="1493.5" y="1136.2" font-size="6.8" font-weight="bold" fill="#9fb2c3" textLength="42.5" lengthAdjust="spacingAndGlyphs">Сертификат</text>
<text x="1557" y="1138.4" font-size="16" font-weight="bold" fill="#fff" textLength="55.3" lengthAdjust="spacingAndGlyphs">364 дня</text>
<circle cx="1126" cy="1174.6" r="4.4" fill="none" stroke="#aebbc8" stroke-width="1.2"/><path d="M1121.6 1174.6 H1130.4 M1126 1170.2 V1179" stroke="#aebbc8" stroke-width="1"/>
<text x="1142.4" y="1177.2" font-size="7" font-weight="bold" fill="#fff" textLength="55" lengthAdjust="spacingAndGlyphs">Москва. Офис 1</text>
<path d="M1126 1195.2 C1123 1192.2 1121.8 1190.8 1121.8 1189 A4.2 4.2 0 0 1 1130.2 1189 C1130.2 1190.8 1129 1192.2 1126 1195.2 Z" fill="none" stroke="#aebbc8" stroke-width="1.2"/><circle cx="1126" cy="1189" r="1.5" fill="#aebbc8"/>
<text x="1141.2" y="1192.8" font-size="7" font-weight="bold" fill="#fff" textLength="31.6" lengthAdjust="spacingAndGlyphs">Франция</text>
<circle cx="1263" cy="1179.8" r="3.3" fill="#2a6a74"/>
<text x="1272.1" y="1178.6" font-size="6.8" font-weight="bold" fill="#46627a" textLength="19.4" lengthAdjust="spacingAndGlyphs">DDoS</text>
<text x="1272.1" y="1188.6" font-size="6.8" font-weight="bold" fill="#46627a" textLength="20" lengthAdjust="spacingAndGlyphs">атака</text>
<circle cx="1309.1" cy="1179.8" r="3.3" fill="#2a6a74"/>
<text x="1317" y="1178.6" font-size="6.8" font-weight="bold" fill="#46627a" textLength="51.4" lengthAdjust="spacingAndGlyphs">Сканирование</text>
<text x="1317" y="1188.6" font-size="6.8" font-weight="bold" fill="#46627a" textLength="25" lengthAdjust="spacingAndGlyphs">портов</text>
<circle cx="1385.7" cy="1179.8" r="3.3" fill="#2a6a74"/>
<text x="1394" y="1178.6" font-size="6.8" font-weight="bold" fill="#46627a" textLength="30" lengthAdjust="spacingAndGlyphs">Перебор</text>
<text x="1394" y="1188.6" font-size="6.8" font-weight="bold" fill="#46627a" textLength="30.5" lengthAdjust="spacingAndGlyphs">паролей</text>
<circle cx="1455.9" cy="1180" r="7.5" fill="url(#gRed)"/><circle cx="1455.9" cy="1180" r="3.8" fill="#f0452a"/><circle cx="1454.9" cy="1178.8" r="1.6" fill="#ff8a66"/>
<text x="1464.2" y="1178.6" font-size="6.8" font-weight="bold" fill="#7e91a4" textLength="28.5" lengthAdjust="spacingAndGlyphs">Сетевой</text>
<text x="1464.2" y="1188.6" font-size="6.8" font-weight="bold" fill="#7e91a4" textLength="26" lengthAdjust="spacingAndGlyphs">трафик</text>
<rect x="1113" y="1209" width="374.5" height="158" fill="#1e2d3d"/>
<rect x="1113" y="1232" width="374.5" height="135" fill="url(#gShade)"/>
<path d="M1155.8 1209 V1367 M1227.6 1209 V1367 M1301 1209 V1367 M1373.5 1209 V1367 M1487 1209 V1367 M1113 1209.3 H1487.5 M1113 1228.7 H1487.5 M1113 1246 H1487.5 M1113 1265.5 H1487.5 M1113 1283 H1487.5 M1113 1301 H1487.5 M1113 1319.5 H1487.5 M1113 1338 H1487.5 " stroke="#2b3d4f" stroke-width="0.8" fill="none" opacity="0.8"/>
<text x="1170.5" y="1228" font-size="6.5" font-weight="bold" fill="#34495c">500</text>
<text x="1170.5" y="1264.7" font-size="6.5" font-weight="bold" fill="#34495c">250</text>
<text x="1170.5" y="1318.9" font-size="6.5" font-weight="bold" fill="#4a7d9a">100</text>
<path d="M1113 1297.5 L1151.6 1274.1 L1175.1 1281.4 L1219.8 1242.1 L1281.7 1282.6 L1349.9 1297.6 L1356.2 1254.9 L1409.5 1240 L1428.7 1274.1 L1468.4 1294.6 L1487.5 1266 V1367 H1113 Z" fill="url(#gArea)"/>
<path d="M1155.8 1300 V1367 M1227.6 1300 V1367 M1301 1300 V1367 M1373.5 1300 V1367  M1113 1338 H1487.5" stroke="#2a6a96" stroke-width="0.7" fill="none" opacity="0.45"/>
<path d="M1113.4 1300 V1366.6 H1487.5" stroke="#2a5e96" stroke-width="0.9" fill="none" opacity="0.45"/>
<circle cx="1409.5" cy="1240" r="6.3" fill="#1fb4f5"/>
<rect x="1399.7" y="1213.8" width="20.5" height="11.8" fill="#2e3b6c"/><path d="M1407.3 1225.5 L1409.9 1229 L1412.5 1225.5 Z" fill="#2e3b6c"/>
<text x="1410" y="1222.3" font-size="6.3" font-weight="bold" fill="#fff" text-anchor="middle">402</text>
<path d="M1157.5 1355.5 C1153.5 1355.5 1152.8 1350 1156.6 1349.2 C1156.4 1344.6 1163.2 1343.2 1164.6 1347.4 C1169.6 1346.6 1170.8 1354.6 1166 1355.5" fill="none" stroke="#aebbc8" stroke-width="1.3" stroke-linecap="round"/><path d="M1161.6 1350.5 V1358.6 M1158.8 1356 L1161.6 1358.8 L1164.4 1356" fill="none" stroke="#aebbc8" stroke-width="1.3" stroke-linecap="round"/>
<text x="1178.6" y="1356.8" font-size="15" font-weight="normal" fill="#c5d3e0" stroke="#c5d3e0" stroke-width="0.35" textLength="196" lengthAdjust="spacingAndGlyphs">Исходящий сетевой трафик</text>
<text x="1383.8" y="1356.8" font-size="23" font-weight="bold" fill="#fff" textLength="67" lengthAdjust="spacingAndGlyphs">10.534</text>
<path d="M1153.0 1382.6 L1183.7 1400.3 L1183.7 1435.7 L1153.0 1453.4 L1122.3 1435.7 L1122.3 1400.3 Z" fill="#15222f" stroke="none" stroke-width="1" stroke-linejoin="round" />
<circle cx="1153" cy="1418" r="20" fill="none" stroke="#343a6c" stroke-width="6.4"/>
<path d="M1150.22 1398.19 A20 20 0 1 1 1133.01 1418.70" fill="none" stroke="#1fb4f5" stroke-width="6.4"/>
<text x="1154" y="1421" font-size="9.6" font-weight="bold" fill="#fff" text-anchor="middle" textLength="20.6" lengthAdjust="spacingAndGlyphs">75%</text>
<path d="M1298.2 1382.6 L1328.9 1400.3 L1328.9 1435.7 L1298.2 1453.4 L1267.5 1435.7 L1267.5 1400.3 Z" fill="#15222f" stroke="none" stroke-width="1" stroke-linejoin="round" />
<circle cx="1298.2" cy="1418" r="20" fill="none" stroke="#343a6c" stroke-width="6.4"/>
<path d="M1298.90 1398.01 A20 20 0 0 1 1313.96 1430.31" fill="none" stroke="#1fb4f5" stroke-width="6.4"/>
<text x="1297.7" y="1421.2" font-size="9.6" font-weight="bold" fill="#fff" text-anchor="middle" textLength="20.4" lengthAdjust="spacingAndGlyphs">25%</text>
<path d="M1425.6 1382.6 L1456.3 1400.3 L1456.3 1435.7 L1425.6 1453.4 L1394.9 1435.7 L1394.9 1400.3 Z" fill="#15222f" stroke="none" stroke-width="1" stroke-linejoin="round" />
<path d="M1400.2 1413 L1412 1416.8 L1420 1415 L1433.9 1406 L1446 1418.3 L1451.2 1413.6 V1433.7 H1400.2 Z" fill="#1fb4f5"/>
<text x="1425.8" y="1420.3" font-size="9.6" font-weight="bold" fill="#fff" text-anchor="middle" textLength="19.9" lengthAdjust="spacingAndGlyphs">500</text>
<rect x="1204.4" y="1392" width="9" height="9" rx="1" fill="none" stroke="#8d9eae" stroke-width="1"/><rect x="1207" y="1394.6" width="3.8" height="3.8" fill="#8d9eae"/><path d="M1206 1390 V1392 M1208.9 1390 V1392 M1211.8 1390 V1392 M1206 1401 V1403 M1208.9 1401 V1403 M1211.8 1401 V1403 M1202.4 1394 H1204.4 M1202.4 1396.5 H1204.4 M1202.4 1399 H1204.4 M1213.4 1394 H1215.4 M1213.4 1396.5 H1215.4 M1213.4 1399 H1215.4" stroke="#8d9eae" stroke-width="0.8"/>
<text x="1192.8" y="1415.5" font-size="6.8" font-weight="bold" fill="#7e91a4" textLength="31.2" lengthAdjust="spacingAndGlyphs">Загрузка</text>
<text x="1192.8" y="1425.6" font-size="6.8" font-weight="bold" fill="#7e91a4" textLength="40.6" lengthAdjust="spacingAndGlyphs">процессора</text>
<g transform="translate(1349.7 1396.5) rotate(40)"><rect x="-7.5" y="-3.2" width="11" height="6.4" rx="1.2" fill="none" stroke="#8d9eae" stroke-width="1"/><rect x="-11" y="-2.2" width="3.5" height="4.4" fill="none" stroke="#8d9eae" stroke-width="0.9"/><path d="M-1 0 H2" stroke="#8d9eae" stroke-width="0.9"/></g>
<text x="1336.2" y="1415.9" font-size="6.8" font-weight="bold" fill="#7e91a4" textLength="31.2" lengthAdjust="spacingAndGlyphs">Загрузка</text>
<text x="1336.2" y="1425.9" font-size="6.8" font-weight="bold" fill="#7e91a4" textLength="25" lengthAdjust="spacingAndGlyphs">памяти</text>
<path d="M1476.5 1399.5 C1472.5 1399.5 1471.8 1394.2 1475.6 1393.4 C1475.4 1388.8 1482.2 1387.4 1483.6 1391.6 C1488.6 1390.8 1489.8 1398.6 1485 1399.5" fill="none" stroke="#8d9eae" stroke-width="1.2" stroke-linecap="round"/><path d="M1480.6 1403 V1394.4 M1477.8 1397 L1480.6 1394.2 L1483.4 1397" fill="none" stroke="#8d9eae" stroke-width="1.2" stroke-linecap="round"/>
<text x="1467.1" y="1415.9" font-size="6.8" font-weight="bold" fill="#7e91a4" textLength="36.3" lengthAdjust="spacingAndGlyphs">Входящий</text>
<text x="1467.1" y="1425.9" font-size="6.8" font-weight="bold" fill="#7e91a4" textLength="25.6" lengthAdjust="spacingAndGlyphs">трафик</text>
<ellipse cx="1573.5" cy="1291.5" rx="50" ry="46" fill="url(#gGlow)"/>
<path d="M1532.7 1197.8 L1543.8 1179.2 L1603.2 1179.2 L1614.3 1197.8 L1603.2 1216.3999999999999 L1543.8 1216.3999999999999 Z" fill="none" stroke="#2a7fa6" stroke-width="0.7" opacity="0.55"/>
<path d="M1535 1197.8 L1545 1181.2 L1602 1181.2 L1612 1197.8 L1602 1214.3999999999999 L1545 1214.3999999999999 Z" fill="url(#gBtn)" stroke="#2b86ac" stroke-width="1.1" stroke-linejoin="round"/>
<text x="1573.6" y="1200.5" font-size="7" font-weight="bold" fill="#fff" text-anchor="middle" textLength="46" lengthAdjust="spacingAndGlyphs">Диагностика</text>
<path d="M1532.7 1291.6 L1543.8 1273.0 L1603.2 1273.0 L1614.3 1291.6 L1603.2 1310.1999999999998 L1543.8 1310.1999999999998 Z" fill="none" stroke="#2a7fa6" stroke-width="0.7" opacity="0.55"/>
<path d="M1535 1291.6 L1545 1275.0 L1602 1275.0 L1612 1291.6 L1602 1308.1999999999998 L1545 1308.1999999999998 Z" fill="url(#gBtnD)" stroke="#2b86ac" stroke-width="1.1" stroke-linejoin="round"/>
<text x="1573.6" y="1294.3" font-size="7" font-weight="bold" fill="#fff" text-anchor="middle" textLength="40.6" lengthAdjust="spacingAndGlyphs">Выключить</text>
<path d="M1532.7 1357 L1543.8 1338.4 L1603.2 1338.4 L1614.3 1357 L1603.2 1375.6 L1543.8 1375.6 Z" fill="none" stroke="#2a7fa6" stroke-width="0.7" opacity="0.55"/>
<path d="M1535 1357 L1545 1340.4 L1602 1340.4 L1612 1357 L1602 1373.6 L1545 1373.6 Z" fill="url(#gBtn)" stroke="#2b86ac" stroke-width="1.1" stroke-linejoin="round"/>
<text x="1573.6" y="1359.7" font-size="7" font-weight="bold" fill="#fff" text-anchor="middle" textLength="52" lengthAdjust="spacingAndGlyphs">Перезагрузить</text>
<path d="M1532.7 1419.5 L1543.8 1400.9 L1603.2 1400.9 L1614.3 1419.5 L1603.2 1438.1 L1543.8 1438.1 Z" fill="none" stroke="#2a7fa6" stroke-width="0.7" opacity="0.55"/>
<path d="M1535 1419.5 L1545 1402.9 L1602 1402.9 L1612 1419.5 L1602 1436.1 L1545 1436.1 Z" fill="url(#gBtn)" stroke="#2b86ac" stroke-width="1.1" stroke-linejoin="round"/>
<text x="1573.6" y="1422.2" font-size="7" font-weight="bold" fill="#fff" text-anchor="middle" textLength="28.2" lengthAdjust="spacingAndGlyphs">Удалить</text>
<text x="1515.1" y="1233.5" font-size="6.8" font-weight="bold" fill="#fff" textLength="16.5" lengthAdjust="spacingAndGlyphs">Пинг</text>
<text x="1596.9" y="1236" font-size="15" font-weight="bold" fill="#fff" textLength="19.5" lengthAdjust="spacingAndGlyphs">1.2</text>
<text x="1617" y="1236" font-size="5.5" font-weight="bold" fill="#fff" textLength="9" lengthAdjust="spacingAndGlyphs">мс</text>
<text x="1515.1" y="1252.4" font-size="6.8" font-weight="bold" fill="#fff" textLength="49.2" lengthAdjust="spacingAndGlyphs">Тест скорости</text>
<text x="1576" y="1255.6" font-size="15" font-weight="bold" fill="#fff" textLength="32" lengthAdjust="spacingAndGlyphs">1024</text>
<text x="1608.2" y="1255.6" font-size="5.5" font-weight="bold" fill="#fff" textLength="17.4" lengthAdjust="spacingAndGlyphs">мбит</text>
<path d="M1515 1240 H1628 M1515 1261.5 H1628" stroke="#2d3f51" stroke-width="0.9"/>
</g>
</svg>
</body></html>
